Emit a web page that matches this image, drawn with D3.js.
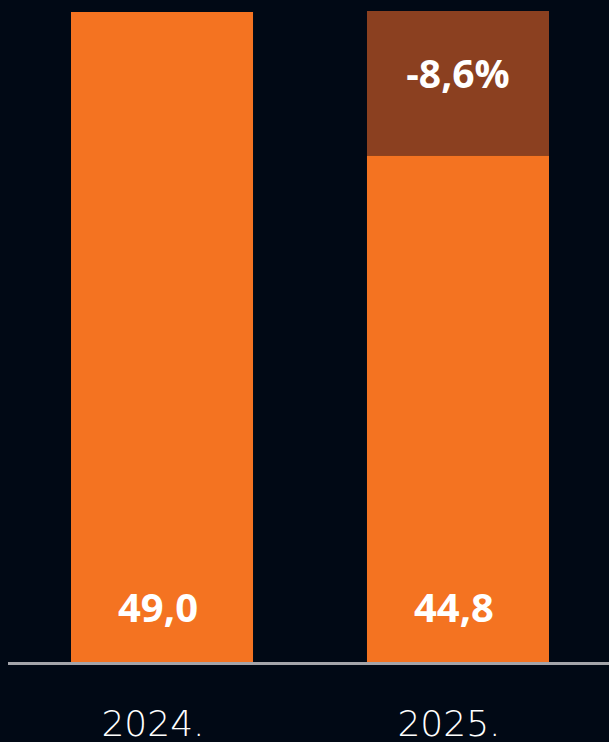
<!DOCTYPE html>
<html>
<head>
<meta charset="utf-8">
<script src="https://cdn.jsdelivr.net/npm/d3@7"></script>
<style>
  html, body { margin: 0; padding: 0; background: #010915; }
  svg { display: block; }
</style>
</head>
<body>
<div id="chart"></div>
<script>
'use strict';

var years = ['2024.', '2025.'];
var values = [49.0, 44.8];
var valueLabels = ['49,0', '44,8'];
var changeLabel = '-8,6%';

var width = 609;
var height = 742;

var svg = d3.select('#chart')
    .append('svg')
    .attr('width', width)
    .attr('height', height);

var x = d3.scaleBand()
    .domain(years)
    .range([71, 549])
    .paddingInner(0.385)
    .paddingOuter(0);

var y = d3.scaleLinear()
    .domain([30, 49])
    .range([662, 12]);

var maxVal = d3.max(values);

// gap between last year and this year
svg.append('rect')
    .attr('x', x(years[1]))
    .attr('y', y(maxVal) - 1)
    .attr('width', x.bandwidth())
    .attr('height', y(values[1]) - y(maxVal) + 1)
    .style('fill', '#8B4020');

svg.selectAll('rect.bar')
    .data(values)
    .enter()
    .append('rect')
    .attr('class', 'bar')
    .attr('x', (d, i) => x(years[i]))
    .attr('y', d => y(d))
    .attr('width', x.bandwidth())
    .attr('height', d => y.range()[0] - y(d))
    .style('fill', '#F47321');

svg.append('line')
    .attr('x1', 8)
    .attr('x2', width)
    .attr('y1', 663.5)
    .attr('y2', 663.5)
    .style('stroke', '#A4A5AA')
    .style('stroke-width', 3);

svg.selectAll('text.val')
    .data(valueLabels)
    .enter()
    .append('text')
    .attr('class', 'val')
    .attr('x', (d, i) => x(years[i]) + x.bandwidth() / 2 - 4)
    .attr('y', 622)
    .attr('text-anchor', 'middle')
    .style('font-family', '"Open Sans", sans-serif')
    .style('font-weight', 700)
    .style('font-size', '40px')
    .style('fill', '#ffffff')
    .text(d => d);

svg.append('text')
    .attr('x', x(years[1]) + x.bandwidth() / 2)
    .attr('y', 88)
    .attr('text-anchor', 'middle')
    .style('font-family', '"Open Sans", sans-serif')
    .style('font-weight', 700)
    .style('font-size', '39px')
    .style('fill', '#ffffff')
    .text(changeLabel);

svg.selectAll('text.year')
    .data(years)
    .enter()
    .append('text')
    .attr('class', 'year')
    .attr('x', d => x(d) + x.bandwidth() / 2 - 9)
    .attr('y', 736)
    .attr('text-anchor', 'middle')
    .style('font-family', '"DejaVu Sans", sans-serif')
    .style('font-weight', 200)
    .style('font-size', '36px')
    .style('fill', '#ffffff')
    .text(d => d);
</script>
</body>
</html>
